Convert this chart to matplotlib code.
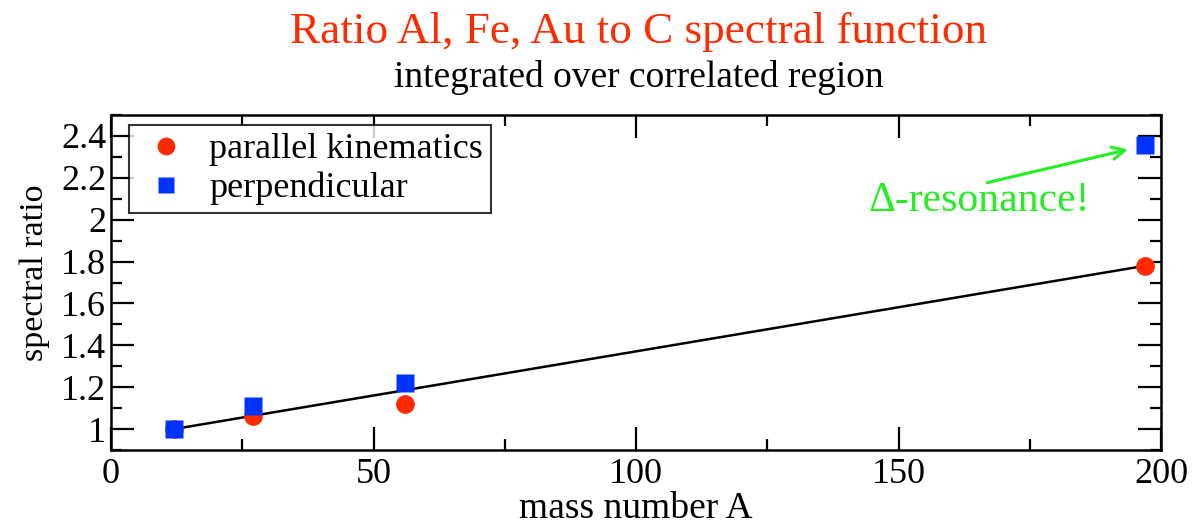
import matplotlib.pyplot as plt
import numpy as np
from matplotlib.ticker import MultipleLocator

# mass numbers of C, Al, Fe, Au
masa = [12, 27, 56, 197]
paralelo = [1.00, 1.06, 1.12, 1.78]
perpendicular = [1.00, 1.11, 1.22, 2.355]

plt.rcParams['font.family'] = ['Liberation Serif', 'DejaVu Serif']

fig = plt.figure(figsize=(12, 5.25), dpi=100)
ax1 = fig.add_axes([0.0925, 0.1429, 0.875, 0.638])

# recta entre el primer y el ultimo punto paralelo
ax1.plot([masa[0], masa[-1]], [paralelo[0], paralelo[-1]], color='black', lw=1.8, zorder=2)
ax1.plot(masa, paralelo, 'o', color='#ff2a00', ms=13.5, mec='none', label='parallel kinematics', zorder=3)
ax1.plot(masa, perpendicular, 's', color='#0033ff', ms=12.5, mec='none', label='perpendicular', zorder=4)

ax1.set_xlim(0, 200)
ax1.set_ylim(0.9, 2.5)
ax1.xaxis.set_major_locator(MultipleLocator(50))
ax1.xaxis.set_minor_locator(MultipleLocator(25))
ax1.yaxis.set_minor_locator(MultipleLocator(0.1))
ax1.set_yticks(np.arange(1.0, 2.41, 0.2))
ax1.set_yticklabels(['1', '1.2', '1.4', '1.6', '1.8', '2', '2.2', '2.4'])
ax1.tick_params(which='both', direction='in', top=True, right=True, width=1.6, labelsize=26)
ax1.tick_params(which='major', length=16.5)
ax1.tick_params(which='minor', length=8)
ax1.tick_params(axis='x', pad=6)
for s in ax1.spines.values():
    s.set_linewidth(1.8)

ax1.set_xlabel('mass number A', fontsize=27, labelpad=0)
ax1.set_ylabel('spectral ratio', fontsize=24.5)
ax1.yaxis.set_label_coords(-0.058, 0.528)

leg = ax1.legend(loc='upper left', bbox_to_anchor=(0.017, 0.97), borderaxespad=0,
                 fontsize=26, frameon=True, fancybox=False, edgecolor='black',
                 handletextpad=0.4, borderpad=0.22, labelspacing=0.15,
                 markerscale=0.95, handlelength=1.6)
leg.get_frame().set_linewidth(1.5)

# flecha y texto de la resonancia
ax1.annotate('', xy=(193.7, 2.335), xytext=(166.9, 2.177),
             arrowprops=dict(arrowstyle='->', color='#22ee22', lw=2.2,
                             mutation_scale=22, shrinkA=0, shrinkB=0))
ax1.text(165.3, 2.09, 'Δ-resonance!', color='#22ee22', fontsize=30,
         ha='center', va='center')

fig.text(0.532, 0.94, 'Ratio Al, Fe, Au to C spectral function', color='#ff2a00',
         fontsize=32.5, ha='center', va='center')
fig.text(0.532, 0.852, 'integrated over correlated region', color='black',
         fontsize=27, ha='center', va='center')

plt.savefig('out.png')
plt.close()
